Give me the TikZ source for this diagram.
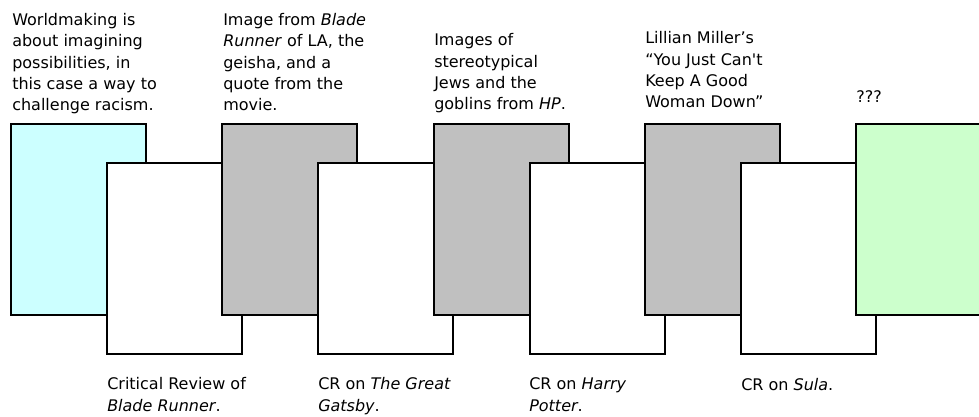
\documentclass[tikz,border=0pt]{standalone}
\usepackage{fontspec}
\setmainfont{DejaVu Sans}
\usepackage{tikz}
\newcommand{\work}[1]{\textit{#1}}
\definecolor{startcyan}{HTML}{CCFFFF}
\definecolor{imagegray}{HTML}{C0C0C0}
\definecolor{endgreen}{HTML}{CCFFCC}
\tikzset{
card/.style={
  anchor=north west,
  draw=black,
  line width=1.5pt,
  minimum width=101.25pt,
  minimum height=143.25pt,
  inner sep=0pt,
  outer sep=0pt
  }
}
\tikzset{
caption/.style={
  anchor=base west,
  align=left,
  inner sep=0pt,
  font=\fontsize{12}{16}\selectfont
  }
}
\tikzset{%
    boundingBox/.style={use as bounding box},
    }

\begin{document}
\begin{tikzpicture}[x=0.75pt, y=-0.75pt]
        \path[boundingBox] (0,0) rectangle (979,417);
        \clip (0,0) rectangle (979,417);

		%cards, drawn left to right so each one overlaps the one before
		\node (vt0) at (11, 124) [card, fill=startcyan] {};
		\node (vb0) at (107, 163) [card, fill=white] {};
		\node (vt1) at (222.25, 124) [card, fill=imagegray] {};
		\node (vb1) at (318.25, 163) [card, fill=white] {};
		\node (vt2) at (433.5, 124) [card, fill=imagegray] {};
		\node (vb2) at (529.5, 163) [card, fill=white] {};
		\node (vt3) at (644.75, 124) [card, fill=imagegray] {};
		\node (vb3) at (740.75, 163) [card, fill=white] {};
		\node (vt4) at (856, 124) [card, fill=endgreen] {};

		%captions above
		\node (lt0) at (12, 111) [caption] {Worldmaking is\\about imagining\\possibilities, in\\this case a way to\\challenge racism.};
		\node (lt1) at (223, 111) [caption] {Image from \work{Blade}\\\work{Runner} of LA, the\\geisha, and a\\quote from the\\movie.};
		\node (lt2) at (434, 110) [caption] {Images of\\stereotypical\\Jews and the\\goblins from \work{HP}.};
		\node (lt3) at (645, 108) [caption] {Lillian Miller’s\\“You Just Can\textquotesingle t\\Keep A Good\\Woman Down”};
		\node (lt4) at (856, 103) [caption] {???};

		%captions below
		\node (lb0) at (107, 411) [caption] {Critical Review of\\\work{Blade Runner}.};
		\node (lb1) at (318, 411) [caption] {CR on \work{The Great}\\\work{Gatsby}.};
		\node (lb2) at (529, 411) [caption] {CR on \work{Harry}\\\work{Potter}.};
		\node (lb3) at (741, 390) [caption] {CR on \work{Sula}.};
\end{tikzpicture}
\end{document}
